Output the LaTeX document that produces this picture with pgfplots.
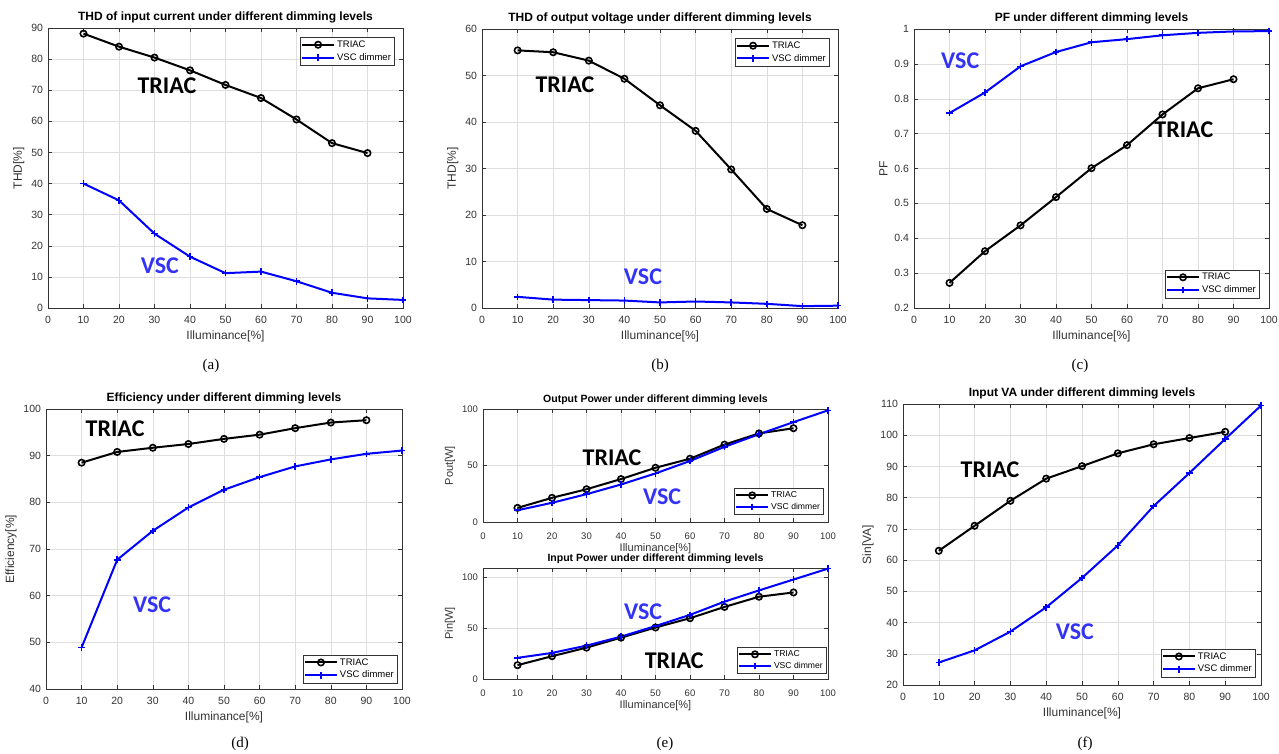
\documentclass[border=0pt]{standalone}
\usepackage{pgfplots}
\pgfplotsset{compat=1.18}
\usepackage{fontspec}
\setmainfont{Liberation Sans}
\newfontfamily\capfont{Liberation Serif}
\newfontfamily\annfont{Carlito}
\definecolor{vscblue}{RGB}{0,0,255}
\definecolor{vsctext}{RGB}{51,51,245}

\tikzset{lbl/.style={font=\annfont\bfseries\fontsize{24}{24}\selectfont}}

\pgfplotsset{
  dim/.style={
    scale only axis, anchor=south west, clip=false,
    xmin=0, xmax=100, xtick={0,10,...,100},
    grid=major, grid style={black!13, line width=0.5pt},
    tick align=inside, major tick length=4pt,
    axis line style={black!80, line width=0.5pt},
    tick style={black!80, line width=0.5pt},
    ticklabel style={font=\fontsize{10.5}{12}\selectfont, text=black!80},
    xticklabel style={yshift=-4.5pt},
    yticklabel style={xshift=-1.5pt},
    label style={font=\fontsize{12}{14}\selectfont, text=black!80},
    title style={font=\bfseries\fontsize{12}{14}\selectfont, yshift=-5pt},
    xlabel={Illuminance[\%]},
    /pgf/number format/assume math mode=true,
    legend cell align=left,
    legend style={font=\fontsize{9.5}{11}\selectfont, draw=black!80,
      inner xsep=1pt, inner ysep=1.5pt, row sep=0.5pt},
    legend image code/.code={\draw[mark repeat=2, mark phase=2, #1]
      plot coordinates {(0pt,0pt) (16pt,0pt) (32pt,0pt)};},
  },
  small/.style={
    ticklabel style={font=\fontsize{9.5}{11}\selectfont},
    xticklabel style={yshift=-2.5pt},
    label style={font=\fontsize{11}{13}\selectfont},
    xlabel style={yshift=3pt},
    title style={font=\bfseries\fontsize{10.5}{12}\selectfont},
    legend style={font=\fontsize{8.6}{10}\selectfont, row sep=0pt, inner ysep=1pt},
  },
  triac/.style={black, line width=2pt, mark=o, mark size=3.2pt, mark options={line width=1.6pt}},
  vsc/.style={vscblue, line width=2pt, mark=+, mark size=3.3pt, mark options={line width=1.6pt}},
}

\begin{document}
\begin{tikzpicture}
\path[use as bounding box] (0pt,0pt) rectangle (1279pt,-753pt);

% (a)
\begin{axis}[dim, at={(48pt,-308pt)}, width=355pt, height=280pt,
  ymin=0, ymax=90, ytick={0,10,...,90}, ylabel={THD[\%]},
  title={THD of input current under different dimming levels},
  legend style={at={(0.975,0.968)}, anchor=north east}]
\addplot[triac] coordinates {(10,88.2) (20,84) (30,80.5) (40,76.4) (50,71.7) (60,67.5) (70,60.6) (80,53) (90,49.8)};
\addlegendentry{TRIAC}
\addplot[vsc] coordinates {(10,40) (20,34.6) (30,23.9) (40,16.5) (50,11.2) (60,11.7) (70,8.6) (80,4.9) (90,3.1) (100,2.6)};
\addlegendentry{VSC dimmer}
\node[lbl] at (33.5,71.4) {TRIAC};
\node[lbl, text=vsctext] at (31.5,13.5) {VSC};
\end{axis}

% (b)
\begin{axis}[dim, at={(482pt,-308pt)}, width=356pt, height=279pt,
  ymin=0, ymax=60, ytick={0,10,...,60}, ylabel={THD[\%]},
  title={THD of output voltage under different dimming levels},
  legend style={at={(0.975,0.968)}, anchor=north east}]
\addplot[triac] coordinates {(10,55.4) (20,55.0) (30,53.2) (40,49.3) (50,43.6) (60,38.1) (70,29.8) (80,21.3) (90,17.8)};
\addlegendentry{TRIAC}
\addplot[vsc] coordinates {(10,2.4) (20,1.8) (30,1.7) (40,1.6) (50,1.2) (60,1.4) (70,1.2) (80,0.9) (90,0.4) (100,0.5)};
\addlegendentry{VSC dimmer}
\node[lbl] at (23.3,48) {TRIAC};
\node[lbl, text=vsctext] at (45.2,6.7) {VSC};
\end{axis}

% (c)
\begin{axis}[dim, at={(914pt,-308pt)}, width=355pt, height=279pt,
  ymin=0.2, ymax=1, ytick={0.2,0.3,...,1.0}, ylabel={PF},
  title={PF under different dimming levels},
  legend style={at={(0.972,0.036)}, anchor=south east}]
\addplot[triac] coordinates {(10,0.272) (20,0.363) (30,0.437) (40,0.518) (50,0.601) (60,0.667) (70,0.755) (80,0.830) (90,0.856)};
\addlegendentry{TRIAC}
\addplot[vsc] coordinates {(10,0.759) (20,0.818) (30,0.893) (40,0.934) (50,0.962) (60,0.971) (70,0.982) (80,0.989) (90,0.993) (100,0.994)};
\addlegendentry{VSC dimmer}
\node[lbl] at (76,0.71) {TRIAC};
\node[lbl, text=vsctext] at (13,0.908) {VSC};
\end{axis}

% (d)
\begin{axis}[dim, at={(46pt,-689pt)}, width=356pt, height=280pt,
  ymin=40, ymax=100, ytick={40,50,...,100}, ylabel={Efficiency[\%]},
  title={Efficiency under different dimming levels},
  legend style={at={(0.986,0.021)}, anchor=south east}]
\addplot[triac] coordinates {(10,88.5) (20,90.8) (30,91.7) (40,92.5) (50,93.6) (60,94.5) (70,95.9) (80,97.1) (90,97.6)};
\addlegendentry{TRIAC}
\addplot[vsc] coordinates {(10,48.9) (20,67.7) (30,73.9) (40,78.9) (50,82.7) (60,85.4) (70,87.7) (80,89.2) (90,90.4) (100,91.1)};
\addlegendentry{VSC dimmer}
\node[lbl] at (19.4,95.7) {TRIAC};
\node[lbl, text=vsctext] at (29.8,58) {VSC};
\end{axis}

% (e) top
\begin{axis}[dim, small, at={(483pt,-522pt)}, width=345pt, height=113pt,
  ymin=0, ymax=100, ytick={0,50,100}, ylabel={Pout[W]},
  title={Output Power under different dimming levels},
  legend style={at={(0.986,0.07)}, anchor=south east}]
\addplot[triac] coordinates {(10,12.5) (20,21.4) (30,29) (40,38) (50,48) (60,56) (70,68.5) (80,78.4) (90,83)};
\addlegendentry{TRIAC}
\addplot[vsc] coordinates {(10,10.4) (20,17) (30,24.6) (40,33.2) (50,43) (60,54) (70,66.5) (80,77.7) (90,88.4) (100,98.8)};
\addlegendentry{VSC dimmer}
\node[lbl] at (37.4,56.6) {TRIAC};
\node[lbl, text=vsctext] at (51.9,22) {VSC};
\end{axis}

% (e) bottom
\begin{axis}[dim, small, at={(483pt,-679pt)}, width=345pt, height=111pt,
  ymin=0, ymax=109, ytick={0,50,100}, ylabel={Pin[W]},
  title={Input Power under different dimming levels},
  legend style={at={(0.994,0.054)}, anchor=south east}]
\addplot[triac] coordinates {(10,13.6) (20,22.4) (30,30.8) (40,40.6) (50,50.6) (60,59.7) (70,70.8) (80,80.8) (90,85)};
\addlegendentry{TRIAC}
\addplot[vsc] coordinates {(10,20.8) (20,25.6) (30,32.8) (40,41.6) (50,52) (60,63) (70,76) (80,87) (90,97.7) (100,108.4)};
\addlegendentry{VSC dimmer}
\node[lbl, text=vsctext] at (46.4,65.7) {VSC};
\node[lbl] at (55.4,17.6) {TRIAC};
\end{axis}

% (f)
\begin{axis}[dim, at={(903pt,-685pt)}, width=358pt, height=281pt,
  ymin=20, ymax=110, ytick={20,30,...,110}, ylabel={Sin[VA]},
  title={Input VA under different dimming levels},
  legend style={at={(0.983,0.028)}, anchor=south east}]
\addplot[triac] coordinates {(10,63) (20,71) (30,79) (40,86.1) (50,90.1) (60,94.2) (70,97.1) (80,99.1) (90,101.1)};
\addlegendentry{TRIAC}
\addplot[vsc] coordinates {(10,27.2) (20,31.1) (30,37.1) (40,44.9) (50,54.3) (60,64.7) (70,77.3) (80,87.9) (90,98.8) (100,109.5)};
\addlegendentry{VSC dimmer}
\node[lbl] at (24.3,88.9) {TRIAC};
\node[lbl, text=vsctext] at (48,37) {VSC};
\end{axis}

\begin{scope}[font=\capfont\fontsize{15}{17}\selectfont]
\node at (211pt,-366pt) {(a)};
\node at (660pt,-366pt) {(b)};
\node at (1080pt,-366pt) {(c)};
\node at (240pt,-744pt) {(d)};
\node at (665pt,-744pt) {(e)};
\node at (1085pt,-744pt) {(f)};
\end{scope}
\end{tikzpicture}
\end{document}
